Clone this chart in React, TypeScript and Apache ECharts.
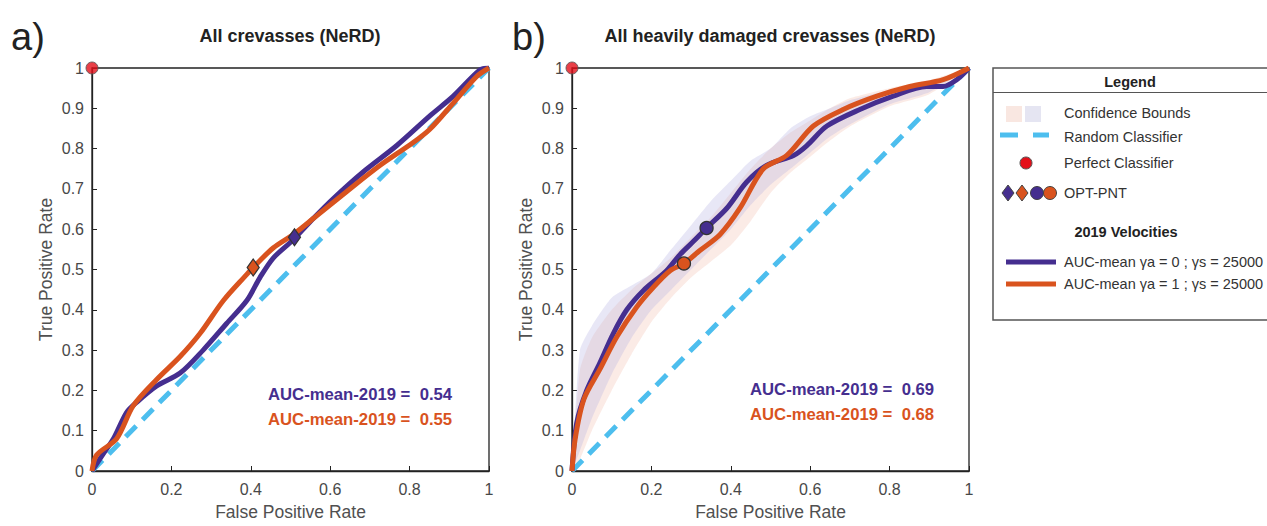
import React, { useEffect, useRef } from "react";
import * as echarts from "echarts";

// ---- Data ----
const PANEL_TITLES = ["All crevasses (NeRD)", "All heavily damaged crevasses (NeRD)"];
const PANEL_LABELS = ["a)", "b)"];
const AUC_A = ["0.54", "0.55"];
const AUC_B = ["0.69", "0.68"];

// Panel a – purple (γa = 0) and orange (γa = 1) mean ROC curves
const A_PURPLE_FPR = [0, 0.03, 0.054, 0.087, 0.112, 0.163, 0.222, 0.28, 0.339, 0.39, 0.423, 0.457, 0.507, 0.558, 0.608, 0.683, 0.767, 0.851, 0.91, 0.977, 1];
const A_PURPLE_TPR = [0, 0.045, 0.08, 0.145, 0.17, 0.211, 0.243, 0.3, 0.366, 0.423, 0.48, 0.529, 0.574, 0.627, 0.676, 0.742, 0.807, 0.881, 0.93, 0.995, 1];
const A_ORANGE_FPR = [0, 0.012, 0.062, 0.104, 0.163, 0.222, 0.272, 0.331, 0.39, 0.406, 0.457, 0.507, 0.558, 0.641, 0.725, 0.809, 0.851, 0.91, 0.969, 1];
const A_ORANGE_TPR = [0, 0.04, 0.08, 0.162, 0.227, 0.284, 0.341, 0.423, 0.488, 0.505, 0.554, 0.587, 0.627, 0.693, 0.758, 0.815, 0.848, 0.913, 0.979, 1];
const A_OPT_PURPLE = [0.51, 0.58];
const A_OPT_ORANGE = [0.406, 0.505];

// Panel b
const B_PURPLE_FPR = [0, 0.012, 0.037, 0.07, 0.104, 0.138, 0.18, 0.238, 0.272, 0.306, 0.339, 0.39, 0.44, 0.49, 0.558, 0.591, 0.642, 0.725, 0.809, 0.893, 0.935, 0.969, 1];
const B_PURPLE_TPR = [0, 0.12, 0.2, 0.268, 0.341, 0.4, 0.448, 0.497, 0.537, 0.57, 0.603, 0.652, 0.717, 0.758, 0.783, 0.807, 0.856, 0.897, 0.93, 0.954, 0.954, 0.971, 1];
const B_ORANGE_FPR = [0, 0.008, 0.03, 0.07, 0.113, 0.163, 0.205, 0.247, 0.282, 0.322, 0.373, 0.423, 0.482, 0.541, 0.608, 0.683, 0.768, 0.851, 0.935, 1];
const B_ORANGE_TPR = [0, 0.08, 0.178, 0.252, 0.333, 0.407, 0.456, 0.497, 0.515, 0.547, 0.587, 0.652, 0.75, 0.783, 0.856, 0.897, 0.93, 0.954, 0.971, 1];
const B_OPT_PURPLE = [0.339, 0.603];
const B_OPT_ORANGE = [0.282, 0.515];

// Panel b confidence bounds
const BAND_FPR = [0, 0.02, 0.05, 0.1, 0.15, 0.2, 0.25, 0.3, 0.35, 0.4, 0.45, 0.5, 0.55, 0.6, 0.65, 0.7, 0.8, 0.9, 1];
const B_PURPLE_UPPER = [0, 0.3, 0.36, 0.43, 0.46, 0.49, 0.55, 0.61, 0.67, 0.72, 0.77, 0.8, 0.85, 0.88, 0.9, 0.92, 0.945, 0.965, 1];
const B_PURPLE_LOWER = [0, 0.05, 0.13, 0.24, 0.33, 0.4, 0.45, 0.5, 0.55, 0.6, 0.66, 0.71, 0.75, 0.79, 0.83, 0.86, 0.91, 0.94, 1];
const B_ORANGE_UPPER = [0, 0.25, 0.33, 0.4, 0.45, 0.49, 0.53, 0.58, 0.63, 0.69, 0.75, 0.8, 0.84, 0.87, 0.9, 0.925, 0.95, 0.97, 1];
const B_ORANGE_LOWER = [0, 0.03, 0.1, 0.2, 0.29, 0.37, 0.43, 0.48, 0.52, 0.56, 0.62, 0.69, 0.74, 0.78, 0.82, 0.855, 0.905, 0.935, 1];

const RANDOM = [[0, 0], [1, 1]];
const PERFECT = [[0, 1]];

const PURPLE = "#452e8f";
const ORANGE = "#d9531e";
const BLUE = "#4dbeee";
const FONT = "'Liberation Sans', Arial, sans-serif";

const zip = (xs: number[], ys: number[]) => xs.map((x, i) => [x, ys[i]]);

function bandSeries(idx: number, upper: number[], lower: number[], color: string) {
  return {
    type: "custom",
    xAxisIndex: idx,
    yAxisIndex: idx,
    data: [0],
    z: 1,
    silent: true,
    clip: true,
    renderItem: (params: any, api: any) => {
      const pts: number[][] = [];
      for (let i = 0; i < BAND_FPR.length; i++) pts.push(api.coord([BAND_FPR[i], upper[i]]));
      for (let i = BAND_FPR.length - 1; i >= 0; i--) pts.push(api.coord([BAND_FPR[i], lower[i]]));
      return { type: "polygon", shape: { points: pts, smooth: 0.2 }, style: { fill: color } };
    },
  };
}

function axes(idx: number) {
  const common = {
    gridIndex: idx,
    type: "value",
    min: 0,
    max: 1,
    nameLocation: "middle",
    nameTextStyle: { fontFamily: FONT, fontSize: 17.5, color: "#505050" },
    axisLine: { show: true, lineStyle: { color: "#222", width: 1.3 } },
    axisTick: { show: true, inside: true, length: 5, lineStyle: { color: "#222", width: 1 } },
    axisLabel: { fontFamily: FONT, fontSize: 16, color: "#484848" },
    splitLine: { show: false },
  };
  return {
    x: { ...common, interval: 0.2, name: "False Positive Rate", nameGap: 32, axisLabel: { ...common.axisLabel, margin: 10 } },
    y: { ...common, interval: 0.1, name: "True Positive Rate", nameGap: 37, axisLabel: { ...common.axisLabel, margin: 8 } },
  };
}

function lineSeries(idx: number, xs: number[], ys: number[], color: string, z: number) {
  return {
    type: "line",
    xAxisIndex: idx,
    yAxisIndex: idx,
    data: zip(xs, ys),
    smooth: 0.3,
    showSymbol: false,
    symbol: "none",
    lineStyle: { color, width: 5 },
    z,
    silent: true,
  };
}

function markerSeries(idx: number, pt: number[], color: string, symbol: string, size: any) {
  return {
    type: "scatter",
    xAxisIndex: idx,
    yAxisIndex: idx,
    data: [pt],
    symbol,
    symbolSize: size,
    itemStyle: { color, borderColor: "#333", borderWidth: 1.3, opacity: 1 },
    z: 10,
    clip: false,
    silent: true,
  };
}

export default function App() {
  const ref = useRef<HTMLDivElement>(null);
  useEffect(() => {
    document.body.style.margin = "0";
    if (!ref.current) return;
    const chart = echarts.init(ref.current, undefined, { renderer: "svg" });
    const a0 = axes(0);
    const a1 = axes(1);
    const series: any[] = [];
    [0, 1].forEach((idx) => {
      series.push({
        type: "line",
        xAxisIndex: idx,
        yAxisIndex: idx,
        data: RANDOM,
        showSymbol: false,
        symbol: "none",
        lineStyle: { color: BLUE, width: 5, type: [15, 9] },
        z: 3,
        silent: true,
      });
    });
    series.push(bandSeries(1, B_ORANGE_UPPER, B_ORANGE_LOWER, "rgba(240,170,150,0.24)"));
    series.push(bandSeries(1, B_PURPLE_UPPER, B_PURPLE_LOWER, "rgba(180,175,225,0.3)"));
    series.push(lineSeries(0, A_PURPLE_FPR, A_PURPLE_TPR, PURPLE, 4));
    series.push(lineSeries(0, A_ORANGE_FPR, A_ORANGE_TPR, ORANGE, 5));
    series.push(lineSeries(1, B_PURPLE_FPR, B_PURPLE_TPR, PURPLE, 4));
    series.push(lineSeries(1, B_ORANGE_FPR, B_ORANGE_TPR, ORANGE, 5));
    series.push(markerSeries(0, A_OPT_PURPLE, PURPLE, "diamond", [12, 17]));
    series.push(markerSeries(0, A_OPT_ORANGE, ORANGE, "diamond", [12, 17]));
    series.push(markerSeries(1, B_OPT_PURPLE, PURPLE, "circle", 13));
    series.push(markerSeries(1, B_OPT_ORANGE, ORANGE, "circle", 13));
    [0, 1].forEach((idx) => {
      series.push({
        type: "scatter",
        xAxisIndex: idx,
        yAxisIndex: idx,
        data: PERFECT,
        symbol: "circle",
        symbolSize: 12,
        itemStyle: { color: "#e3101a", borderColor: "#555", borderWidth: 1 },
        z: 11,
        clip: false,
        silent: true,
      });
    });

    const txt = (x: number, y: number, text: string, extra: any = {}) => ({
      type: "text",
      x,
      y,
      z: 100,
      style: { text, fontFamily: FONT, fontSize: 14.5, fill: "#333", textVerticalAlign: "middle", verticalAlign: "middle", ...extra },
    });

    const graphic: any[] = [
      txt(11, 37, PANEL_LABELS[0], { fontSize: 38, fill: "#222" }),
      txt(512, 37, PANEL_LABELS[1], { fontSize: 38, fill: "#222" }),
      txt(290, 36, PANEL_TITLES[0], { fontSize: 18, fontWeight: "bold", align: "center", fill: "#222" }),
      txt(770, 36, PANEL_TITLES[1], { fontSize: 18, fontWeight: "bold", align: "center", fill: "#222" }),
      txt(268, 394, "AUC-mean-2019 =  " + AUC_A[0], { fontSize: 16.7, fontWeight: "bold", fill: PURPLE }),
      txt(268, 419, "AUC-mean-2019 =  " + AUC_A[1], { fontSize: 16.7, fontWeight: "bold", fill: ORANGE }),
      txt(750, 389, "AUC-mean-2019 =  " + AUC_B[0], { fontSize: 16.7, fontWeight: "bold", fill: PURPLE }),
      txt(750, 414, "AUC-mean-2019 =  " + AUC_B[1], { fontSize: 16.7, fontWeight: "bold", fill: ORANGE }),
      // Legend box
      { type: "rect", z: 90, shape: { x: 993, y: 68, width: 320, height: 252 }, style: { fill: "#fff", stroke: "#555", lineWidth: 1.5 } },
      { type: "line", z: 91, shape: { x1: 993, y1: 92.5, x2: 1300, y2: 92.5 }, style: { stroke: "#555", lineWidth: 1.2 } },
      txt(1130, 82, "Legend", { fontWeight: "bold", align: "center", fill: "#222" }),
      { type: "rect", z: 95, shape: { x: 1006, y: 106, width: 16, height: 16 }, style: { fill: "rgba(245,215,205,0.6)" } },
      { type: "rect", z: 95, shape: { x: 1025, y: 106, width: 16, height: 16 }, style: { fill: "rgba(220,220,238,0.75)" } },
      txt(1064, 113, "Confidence Bounds"),
      { type: "line", z: 95, shape: { x1: 1000, y1: 135, x2: 1018, y2: 135 }, style: { stroke: BLUE, lineWidth: 5 } },
      { type: "line", z: 95, shape: { x1: 1033, y1: 135, x2: 1049, y2: 135 }, style: { stroke: BLUE, lineWidth: 5 } },
      txt(1064, 137, "Random Classifier"),
      { type: "circle", z: 95, shape: { cx: 1026, cy: 163, r: 6 }, style: { fill: "#e3101a", stroke: "#555", lineWidth: 1 } },
      txt(1064, 163, "Perfect Classifier"),
      { type: "polygon", z: 95, shape: { points: [[1002, 193], [1008, 185], [1014, 193], [1008, 201]] }, style: { fill: PURPLE, stroke: "#444", lineWidth: 1 } },
      { type: "polygon", z: 95, shape: { points: [[1016, 193], [1022, 185], [1028, 193], [1022, 201]] }, style: { fill: ORANGE, stroke: "#444", lineWidth: 1 } },
      { type: "circle", z: 95, shape: { cx: 1037, cy: 193, r: 6.5 }, style: { fill: PURPLE, stroke: "#444", lineWidth: 1 } },
      { type: "circle", z: 95, shape: { cx: 1050, cy: 193, r: 6.5 }, style: { fill: ORANGE, stroke: "#444", lineWidth: 1 } },
      txt(1064, 193, "OPT-PNT"),
      txt(1126, 232, "2019 Velocities", { fontWeight: "bold", align: "center", fill: "#222" }),
      { type: "line", z: 95, shape: { x1: 1006, y1: 262, x2: 1056, y2: 262 }, style: { stroke: PURPLE, lineWidth: 5 } },
      txt(1064, 262, "AUC-mean γa = 0 ; γs = 25000"),
      { type: "line", z: 95, shape: { x1: 1006, y1: 284, x2: 1056, y2: 284 }, style: { stroke: ORANGE, lineWidth: 5 } },
      txt(1064, 284, "AUC-mean γa = 1 ; γs = 25000"),
    ];

    chart.setOption({
      animation: false,
      backgroundColor: "#fff",
      grid: [
        { left: 92, top: 68, width: 397, height: 408, show: true, borderColor: "#222", borderWidth: 1.3, backgroundColor: "transparent" },
        { left: 572, top: 68, width: 397, height: 408, show: true, borderColor: "#222", borderWidth: 1.3, backgroundColor: "transparent" },
      ],
      xAxis: [a0.x, a1.x],
      yAxis: [a0.y, a1.y],
      series,
      graphic,
    });
    return () => chart.dispose();
  }, []);
  return <div ref={ref} style={{ width: 1267, height: 526 }} />;
}
